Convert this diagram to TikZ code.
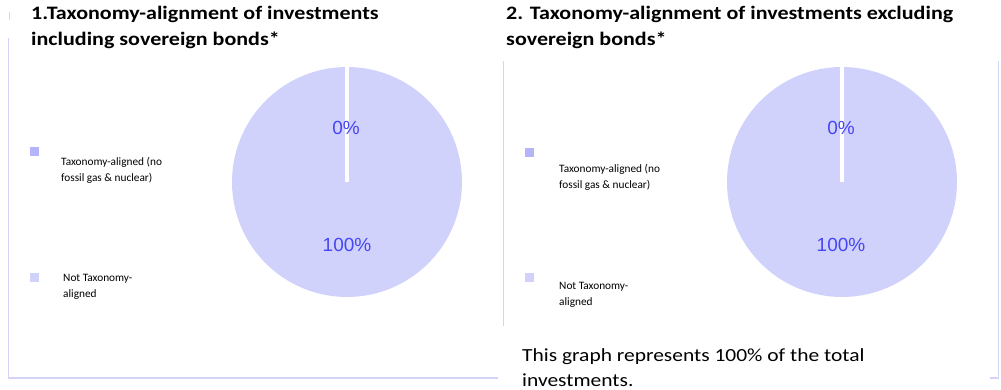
\documentclass[tikz,border=0pt]{standalone}
\usepackage{fontspec}
\setmainfont{Carlito}
\newfontfamily\widefont[FakeStretch=1.16]{Carlito}
\newfontfamily\lblfont{Liberation Sans}
\definecolor{pielav}{HTML}{D1D2FC}
\definecolor{darklav}{HTML}{B4B4F9}
\definecolor{framelav}{HTML}{D4D4F8}
\definecolor{lblblue}{HTML}{4646F2}
\definecolor{pinkmark}{HTML}{F0C8F0}
\tikzset{
  frameline/.style={draw=framelav, line width=1pt},
  framebottom/.style={draw=framelav, line width=2.5pt},
  piefill/.style={fill=pielav, draw=none},
  sep/.style={draw=white, line width=4pt},
  pct/.style={font=\lblfont\fontsize{19}{22}\selectfont, text=lblblue, inner sep=0pt},
  ttl/.style={font=\widefont\bfseries\fontsize{19}{26}\selectfont, anchor=north west, align=left, inner sep=0pt},
  leg/.style={font=\fontsize{11.3}{16}\selectfont, anchor=north west, align=left, inner sep=0pt},
  sq/.style={minimum size=9pt, inner sep=0pt},
  note/.style={font=\widefont\fontsize{18.5}{25}\selectfont, anchor=north west, align=left, inner sep=0pt}
}
\begin{document}
\begin{tikzpicture}[x=1pt,y=-1pt]
\useasboundingbox (0,0) rectangle (1001,390);
% frames
\draw[draw=pinkmark, line width=1pt] (9,12) -- (9,20);
\draw[frameline] (8,38) -- (8,378);
\draw[framebottom] (8,378) -- (498,378);
\draw[frameline] (503,61) -- (503,326);
\draw[frameline] (998,61) -- (998,378);
\draw[framebottom] (990,378) -- (998.5,378);
% titles
\node[ttl] (t1) at (31,6) {1.Taxonomy-alignment of investments\\including sovereign bonds*};
\node[ttl] (t2) at (506,6) {2. Taxonomy-alignment of investments excluding\\sovereign bonds*};
% pie 1
\coordinate (c1) at (347,182);
\fill[piefill] (c1) circle (115);
\coordinate (top1) at (347,66);
\draw[sep] (c1) -- (top1);
\node[pct] (z1) at (346,128) {0\%};
\node[pct] (h1) at (347,245) {100\%};
% pie 2
\coordinate (c2) at (842,182);
\fill[piefill] (c2) circle (115);
\coordinate (top2) at (842,66);
\draw[sep] (c2) -- (top2);
\node[pct] (z2) at (841,128) {0\%};
\node[pct] (h2) at (841,245) {100\%};
% legend 1
\node[sq, fill=darklav] (s1a) at (34,152) {};
\node[leg] (l1a) at (61,157) {Taxonomy-aligned (no\\fossil gas \& nuclear)};
\node[sq, fill=pielav] (s1b) at (34,277) {};
\node[leg] (l1b) at (63,274) {Not Taxonomy-\\aligned};
% legend 2
\node[sq, fill=darklav] (s2a) at (529,153) {};
\node[leg] (l2a) at (559,164) {Taxonomy-aligned (no\\fossil gas \& nuclear)};
\node[sq, fill=pielav] (s2b) at (529,277) {};
\node[leg] (l2b) at (559,282) {Not Taxonomy-\\aligned};
% note
\node[note] (n) at (522,348) {This graph represents 100\% of the total\\investments.};
\end{tikzpicture}
\end{document}
